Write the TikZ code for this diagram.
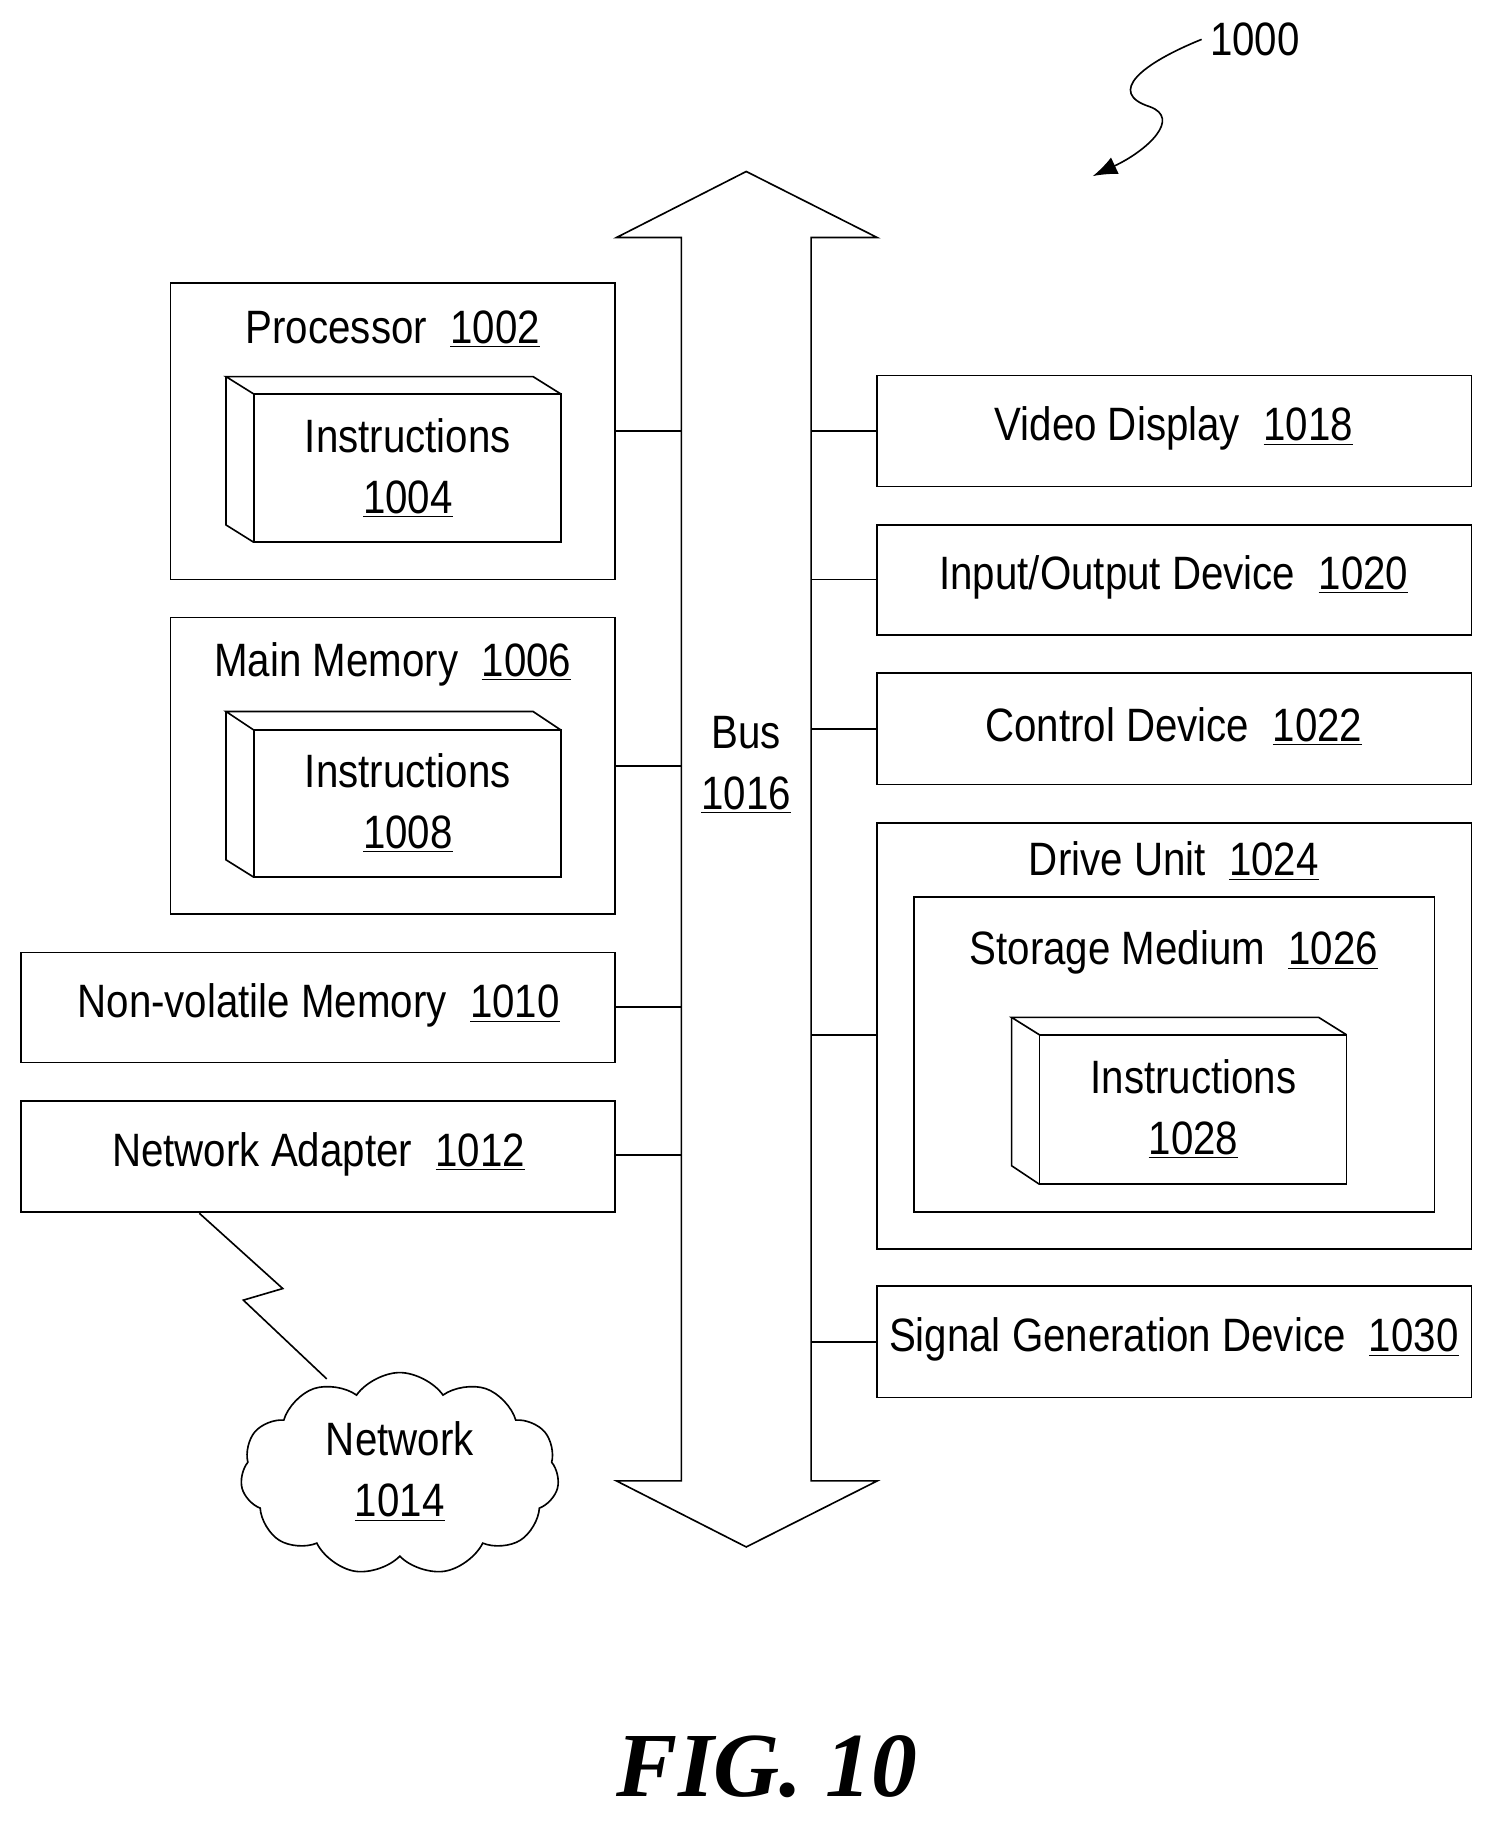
\documentclass[tikz,border=0pt]{standalone}
\usepackage{fontspec}
\setmainfont{Liberation Sans}[FakeStretch=0.86]
\newfontfamily\figfont{Liberation Serif}
\usetikzlibrary{shapes.symbols,arrows.meta}
\newcommand{\ul}[1]{\underline{#1}}
\tikzset{
  box/.style={draw, thick, inner sep=0pt},
  lbl/.style={inner sep=0pt, font=\fontsize{23}{28}\selectfont, align=center},
  link/.style={thick}
}
\begin{document}
\begin{tikzpicture}[x=0.02cm,y=-0.02cm]
\useasboundingbox (0,0) rectangle (1300,1581);
% bus
\draw[thick] (588,1278) -- (588,205) -- (532,205) -- (644,148) -- (757,205) -- (700,205)
  -- (700,1278) -- (757,1278) -- (644,1335) -- (532,1278) -- cycle;
\node[lbl] (bus) at (644,660) {Bus\\[2pt]\ul{1016}};
% left side
\draw[box] (147,244) rectangle (531,500);
\node[lbl] (proc) at (339,284) {Processor\enspace\ul{1002}};
\draw[box] (219,340) -- (195,325) -- (460,325) -- (484,340);
\draw[box] (219,468) -- (195,453) -- (195,325);
\draw[box] (219,340) rectangle (484,468);
\node[lbl] (ins1) at (352,404) {Instructions\\[2pt]\ul{1004}};
\draw[box] (147,533) rectangle (531,789);
\node[lbl] (mem) at (339,573) {Main Memory\enspace\ul{1006}};
\draw[box] (219,630) -- (195,614) -- (460,614) -- (484,630);
\draw[box] (219,757) -- (195,742) -- (195,614);
\draw[box] (219,630) rectangle (484,757);
\node[lbl] (ins2) at (352,693) {Instructions\\[2pt]\ul{1008}};
\draw[box] (18,822) rectangle (531,917);
\node[lbl] (nvm) at (275,868) {Non-volatile Memory\enspace\ul{1010}};
\draw[box] (18,950) rectangle (531,1046);
\node[lbl] (adp) at (275,996) {Network Adapter\enspace\ul{1012}};
\foreach \y in {372,661,869,997} \draw[link] (531,\y) -- (588,\y);
% right side
\draw[box] (757,324) rectangle (1270,420);
\node[lbl] (vid) at (1013,370) {Video Display\enspace\ul{1018}};
\draw[box] (757,453) rectangle (1270,548);
\node[lbl] (io) at (1013,498) {Input/Output Device\enspace\ul{1020}};
\draw[box] (757,581) rectangle (1270,677);
\node[lbl] (ctl) at (1013,627) {Control Device\enspace\ul{1022}};
\draw[box] (757,710) rectangle (1270,1078);
\node[lbl] (drv) at (1013,743) {Drive Unit\enspace\ul{1024}};
\draw[box] (789,774) rectangle (1238,1046);
\node[lbl] (stor) at (1013,822) {Storage Medium\enspace\ul{1026}};
\draw[box] (897,893) -- (873,878) -- (1138,878) -- (1162,893);
\draw[box] (897,1022) -- (873,1006) -- (873,878);
\draw[box] (897,893) rectangle (1162,1022);
\node[lbl] (ins3) at (1030,957) {Instructions\\[2pt]\ul{1028}};
\draw[box] (757,1110) rectangle (1270,1206);
\node[lbl] (sig) at (1013,1156) {Signal Generation Device\enspace\ul{1030}};
\foreach \y in {372,500,629,893,1158} \draw[link] (700,\y) -- (757,\y);
% network
\node[cloud, draw, thick, cloud puffs=11, cloud puff arc=110, aspect=1.6,
  minimum width=5.5cm, minimum height=3.5cm] (net) at (345,1272) {};
\node[lbl] (netl) at (345,1270) {Network\\[2pt]\ul{1014}};
\draw[thick] (172,1047) -- (244,1112) -- (210,1122) -- (282,1190);
% reference numeral
\node[lbl, anchor=west] (ref) at (1044,34) {1000};
\coordinate (tip) at (943,152);
\draw[thick, -{Latex[length=12pt,width=9pt]}] ([xshift=-4pt]ref.west) .. controls (985,55) and (955,80) .. (992,92)
  .. controls (1020,102) and (990,130) .. (tip);
\node[inner sep=0pt, font=\figfont\bfseries\itshape\fontsize{45}{50}\selectfont] (fig) at (662,1525) {FIG. 10};
\end{tikzpicture}
\end{document}
